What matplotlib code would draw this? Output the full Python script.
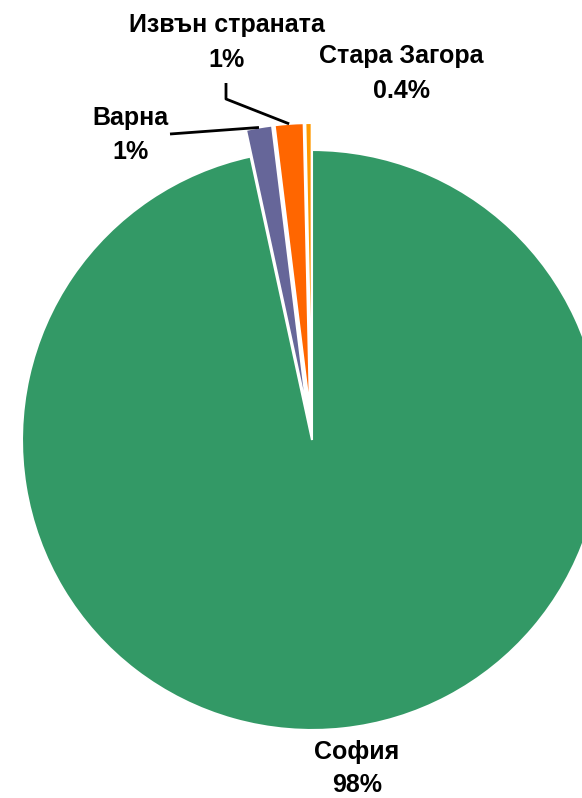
import numpy as np
import matplotlib.pyplot as plt

plt.rcParams["font.family"] = ["Liberation Sans", "DejaVu Sans"]

# data (share of total)
cities = ["София", "Варна", "Извън страната", "Стара Загора"]
shares = [96.6, 1.45, 1.6, 0.35]
pct_labels = ["98%", "1%", "1%", "0.4%"]
colors = ["#339966", "#666699", "#FF6600", "#FF9900"]

W, H = 582, 798
R = 290
explode = [0, 27, 27, 27]  # pie explode offsets are in data units

fig = plt.figure(figsize=(W / 100, H / 100), dpi=100)
ax = fig.add_axes([0, 0, 1, 1])

wedges, _ = ax.pie(
    shares,
    colors=colors,
    explode=explode,
    startangle=90,
    counterclock=False,
    radius=R,
    center=(312, H - 440),
    wedgeprops=dict(edgecolor="white", linewidth=1.5),
)
ax.set_xlim(0, W)
ax.set_ylim(0, H)
ax.set_aspect("equal")
ax.axis("off")


def outer_mid(w):
    a = np.deg2rad((w.theta1 + w.theta2) / 2)
    return w.center[0] + w.r * np.cos(a), w.center[1] + w.r * np.sin(a)


# label anchors: centre x, baselines of the two lines (pixels from top)
label_pos = [(357, 759, 792), (130, 125, 159), (227, 32, 67), (401, 63, 98)]
for name, pct, (x, y1, y2) in zip(cities, pct_labels, label_pos):
    ax.text(x, H - y1, name, ha="center", va="baseline",
            fontsize=18, fontweight="bold")
    ax.text(x, H - y2, pct, ha="center", va="baseline",
            fontsize=18, fontweight="bold")

# leader lines
vx, vy = outer_mid(wedges[1])
ax.plot([170, vx], [H - 134, vy], color="black", lw=2, solid_capstyle="butt")
ax_, ay_ = outer_mid(wedges[2])
ax.plot([226, 226, ax_], [H - 83, H - 99, ay_], color="black", lw=2,
        solid_capstyle="butt")

fig.savefig("out.png", dpi=100)
